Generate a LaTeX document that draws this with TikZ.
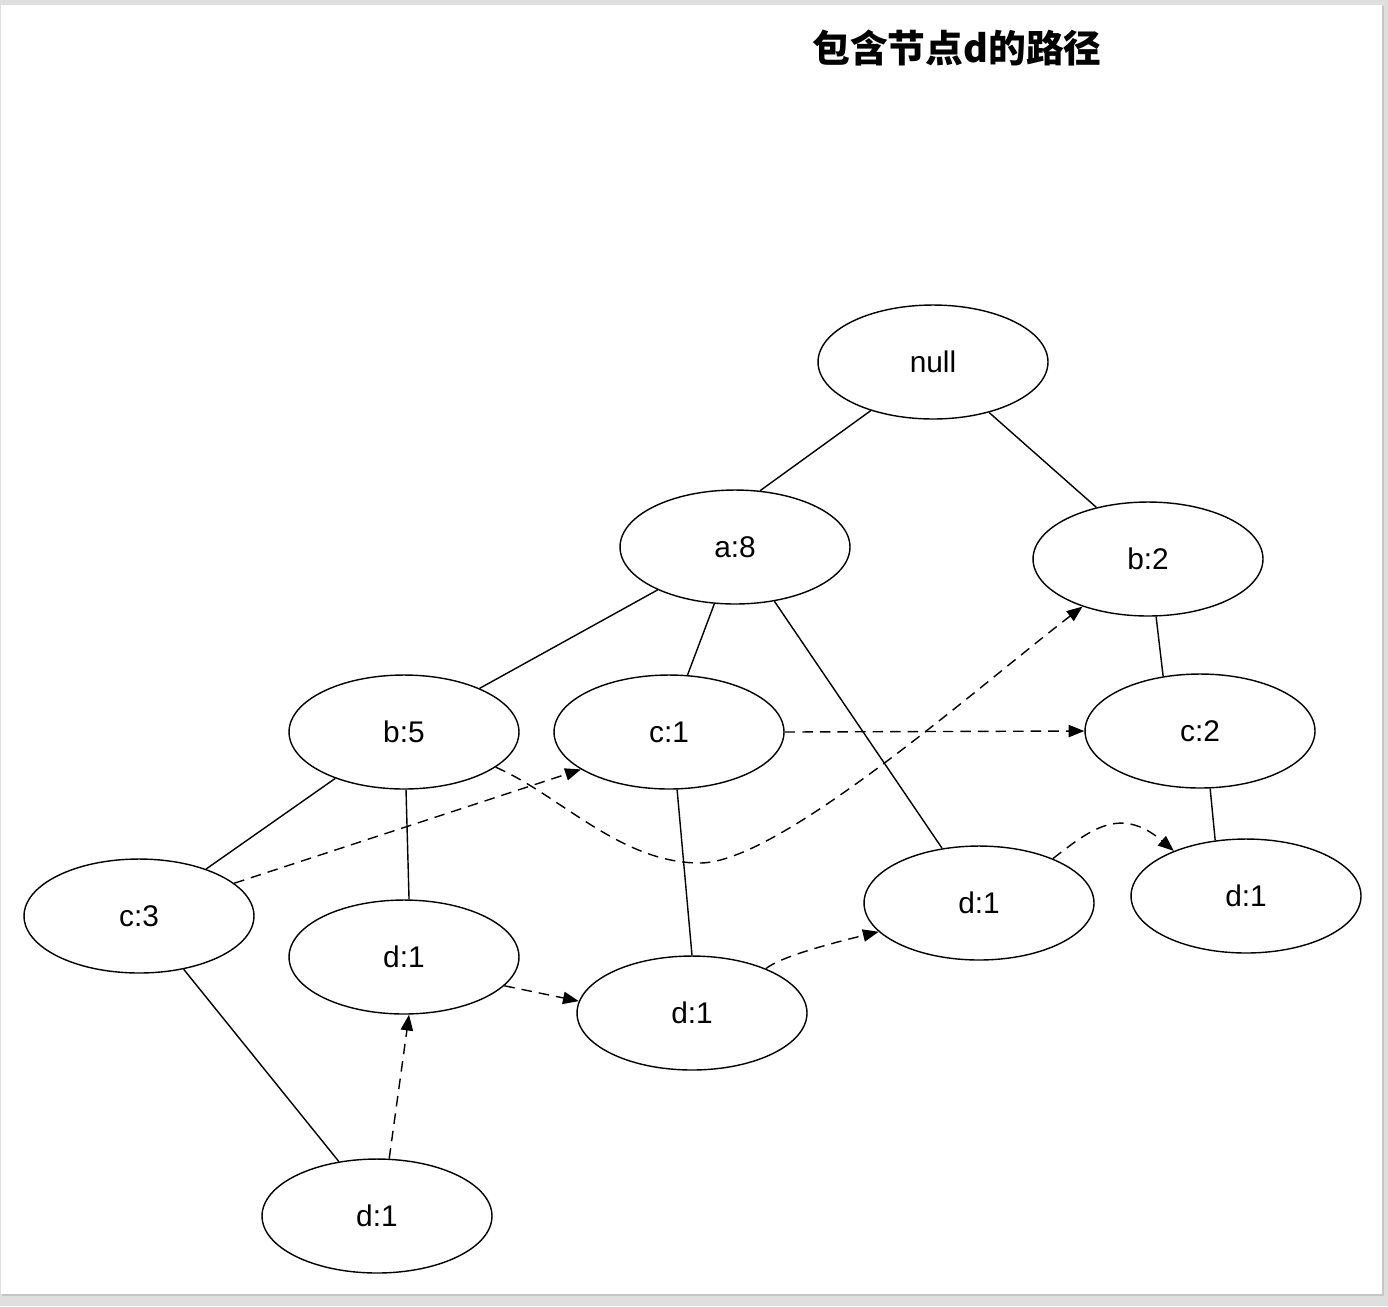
\documentclass[tikz,border=0pt]{standalone}
\usepackage{fontspec}
\setmainfont{Liberation Sans}
\newfontfamily\cjk{Noto Sans CJK SC}
\usetikzlibrary{shapes.geometric,arrows.meta}

\tikzset{
  item/.style={draw, ellipse, line width=0.8pt, minimum width=4.6cm, minimum height=2.28cm, inner sep=0pt, font=\fontsize{17}{20}\selectfont},
  link/.style={line width=0.8pt},
  hop/.style={line width=0.8pt, dash pattern=on 6pt off 4pt, -{Triangle[length=9pt,width=7pt]}}
}

\begin{document}
\begin{tikzpicture}[line cap=butt, line join=round, x=0.02cm, y=-0.02cm]

            % page
            \fill[gray!25] (0,0) rectangle (1388,1306);
            \fill[gray!45] (2,6) rectangle (1384,1296);
            \fill[white] (1,5) rectangle (1382,1294);
            \useasboundingbox (0,0) rectangle (1388,1306);

            \node[font=\cjk\bfseries\fontsize{21.5}{24}\selectfont] (title) at (957,48) {包含节点d的路径};

            % tree
            \node[item] (null) at (933,362) {null};
            \node[item] (a8) at (735,547) {a:8};
            \node[item] (b2) at (1148,559) {b:2};
            \node[item] (b5) at (404,732) {b:5};
            \node[item] (c1) at (669,732) {c:1};
            \node[item] (c2) at (1200,731) {c:2};
            \node[item] (c3) at (139,916) {c:3};
            \node[item] (db5) at (404,957) {d:1};
            \node[item] (dc1) at (692,1013) {d:1};
            \node[item] (da8) at (979,903) {d:1};
            \node[item] (dc2) at (1246,896) {d:1};
            \node[item] (dc3) at (377,1216) {d:1};

            \draw[link] (null.218) -- (a8.66);
            \draw[link] (null.318) -- (b2.135);
            \draw[link] (a8.209) -- (b5.30);
            \draw[link] (a8.250) -- (c1.72);
            \draw[link] (a8.306) -- (da8.124);
            \draw[link] (b2.278) -- (c2.124);
            \draw[link] (c2.280) -- (dc2.119);
            \draw[link] (b5.214) -- (c3.35);
            \draw[link] (b5.272) -- (db5.85);
            \draw[link] (c1.278) -- (dc1.90);
            \draw[link] (c3.310) -- (dc3.125);

            % node links for d
            \draw[hop] (dc3.78) -- (db5.275);
            \draw[hop] (db5.344) -- (dc1.174);
            \draw[hop] (dc1.31) .. controls (779,958) and (820,946) .. (da8.196);
            \draw[hop] (da8.31) .. controls (1090,830) and (1120,805) .. (dc2.148);
            \draw[hop] (c3.19) -- (c1.203);
            \draw[hop] (c1.east) -- (c2.west);
            \draw[hop] (b5.339) .. controls (560,795) and (620,863) .. (700,863)
                                .. controls (780,863) and (980,685) .. (b2.216);

        \end{tikzpicture}
\end{document}
